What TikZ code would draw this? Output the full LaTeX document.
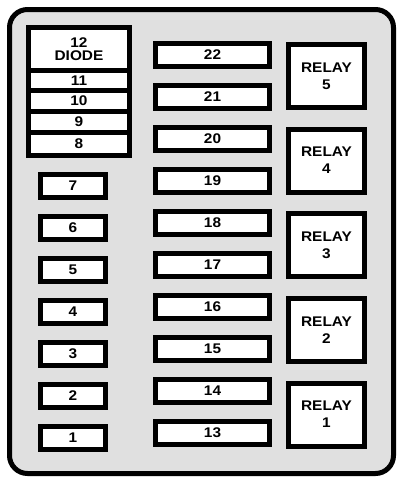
\documentclass[tikz,border=0pt]{standalone}
\usepackage{fontspec}
\setmainfont{Liberation Sans}[FakeStretch=1.1]
\usepackage{tikz}
\definecolor{boxgray}{RGB}{224,224,224}
\tikzstyle{cell} = [draw, line width=5pt, fill=white, inner sep=0pt, font=\bfseries\fontsize{14}{17}\selectfont, align=center]
\tikzstyle{small} = [cell, minimum width=65pt, minimum height=23pt]
\tikzstyle{long} = [cell, minimum width=114pt, minimum height=23pt]
\tikzstyle{relay} = [cell, minimum width=76pt, minimum height=63pt]
\tikzstyle{block} = [cell, minimum width=101pt]

\begin{document}
\begin{tikzpicture}[x=1pt,y=-1pt]
			\useasboundingbox (0,0) rectangle (400,482);
			\draw[line width=5pt, fill=boxgray, rounded corners=18pt] (9.5,9.5) rectangle (393.5,473.5);
			% diode block
			\node[block, minimum height=43pt] (f12) at (79,49) {12\\[-4pt]DIODE};
			\node[block, minimum height=20pt] (f11) at (79,80.5) {11};
			\node[block, minimum height=21pt] (f10) at (79,101) {10};
			\node[block, minimum height=21pt] (f9) at (79,122) {9};
			\node[block, minimum height=23pt] (f8) at (79,144) {8};
			% left column
			\node[small] (f7) at (73,186) {7};
			\node[small] (f6) at (73,228) {6};
			\node[small] (f5) at (73,270) {5};
			\node[small] (f4) at (73,312) {4};
			\node[small] (f3) at (73,354) {3};
			\node[small] (f2) at (73,396) {2};
			\node[small] (f1) at (73,438) {1};
			% middle column
			\node[long] (f22) at (212.5,54.5) {22};
			\node[long] (f21) at (212.5,96.5) {21};
			\node[long] (f20) at (212.5,138.5) {20};
			\node[long] (f19) at (212.5,180.5) {19};
			\node[long] (f18) at (212.5,222.5) {18};
			\node[long] (f17) at (212.5,264.5) {17};
			\node[long] (f16) at (212.5,306.5) {16};
			\node[long] (f15) at (212.5,348.5) {15};
			\node[long] (f14) at (212.5,390.5) {14};
			\node[long] (f13) at (212.5,432.5) {13};
			% relays
			\node[relay] (r5) at (326.5,76) {RELAY\\5};
			\node[relay] (r4) at (326.5,160.6) {RELAY\\4};
			\node[relay] (r3) at (326.5,245.2) {RELAY\\3};
			\node[relay] (r2) at (326.5,329.8) {RELAY\\2};
			\node[relay] (r1) at (326.5,414.5) {RELAY\\1};
		\end{tikzpicture}
\end{document}
